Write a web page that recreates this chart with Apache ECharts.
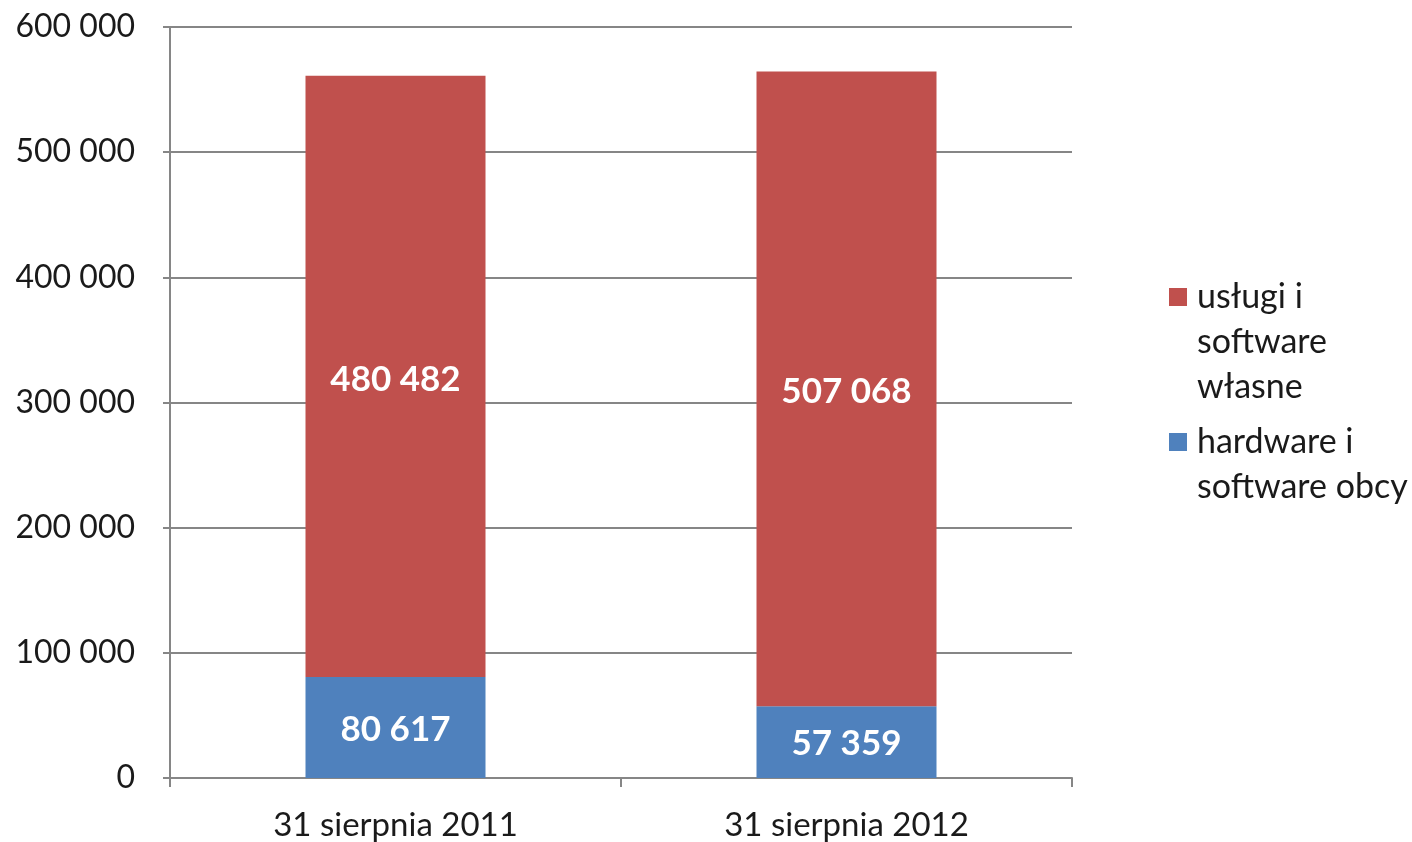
<!DOCTYPE html>
<html>
<head>
<meta charset="utf-8">
<title>Wykres</title>
<script src="https://cdn.jsdelivr.net/npm/echarts@6/dist/echarts.min.js"></script>
<style>
  html, body { margin: 0; padding: 0; background: #fff; }
  #chart { width: 1412px; height: 842px; }
</style>
</head>
<body>
<div id="chart"></div>
<script>
var categories = ['31 sierpnia 2011', '31 sierpnia 2012'];
var hardwareValues = [80617, 57359];
var uslugiValues = [480482, 507068];
var seriesNames = ['usługi i software własne', 'hardware i software obcy'];
var legendLabels = [['usługi i', 'software', 'własne'], ['hardware i', 'software obcy']];

var FONT = 'Lato';
var GRAY = '#868686';
var LH = 45;

function fmt(v) {
    return String(v).replace(/\B(?=(\d{3})+(?!\d))/g, ' ');
}

// icon is centred on the text block, so pad with empty lines on top
// to put the first line next to the icon
function legendFor(idx, iconY) {
    var lines = legendLabels[idx];
    var pad = lines.length - 1;
    var total = lines.length + pad;
    var text = new Array(pad + 1).join(' \n') + lines.join('\n');
    return {
        orient: 'vertical',
        left: 1169,
        top: iconY - total * LH / 2,
        padding: 0,
        itemWidth: 18,
        itemHeight: 18,
        icon: 'rect',
        data: [seriesNames[idx]],
        formatter: function () { return text; },
        textStyle: {
            fontFamily: FONT,
            fontSize: 34,
            lineHeight: LH,
            color: '#1a1a1a',
            padding: [0, 0, 0, 5]
        }
    };
}

var chart = echarts.init(document.getElementById('chart'));
chart.setOption({
    animation: false,
    backgroundColor: '#fff',
    grid: { left: 170, right: 340, top: 27, bottom: 64 },
    legend: [
        legendFor(0, 297),
        legendFor(1, 442)
    ],
    xAxis: {
        type: 'category',
        data: categories,
        axisLine: { lineStyle: { color: GRAY, width: 2 } },
        axisTick: { show: true, length: 9, lineStyle: { color: GRAY, width: 2 } },
        axisLabel: { fontFamily: FONT, fontSize: 33, color: '#1a1a1a', margin: 31 }
    },
    yAxis: {
        type: 'value',
        min: 0,
        max: 600000,
        interval: 100000,
        axisLine: { show: true, lineStyle: { color: GRAY, width: 2 } },
        axisTick: { show: true, length: 7, lineStyle: { color: GRAY, width: 2 } },
        splitLine: { lineStyle: { color: GRAY, width: 2 } },
        axisLabel: {
            fontFamily: FONT, fontSize: 32, color: '#1a1a1a', margin: 35,
            formatter: function (v) { return fmt(v); }
        }
    },
    series: [
        {
            name: seriesNames[1],
            type: 'bar',
            stack: 'total',
            barWidth: 180,
            data: hardwareValues,
            itemStyle: { color: '#4F81BD' },
            label: {
                show: true, position: 'inside', color: '#fff',
                fontFamily: FONT, fontSize: 35, fontWeight: 'bold',
                offset: [0, 2],
                formatter: function (p) { return fmt(p.value); }
            }
        },
        {
            name: seriesNames[0],
            type: 'bar',
            stack: 'total',
            barWidth: 180,
            data: uslugiValues,
            itemStyle: { color: '#C0504D' },
            label: {
                show: true, position: 'inside', color: '#fff',
                fontFamily: FONT, fontSize: 35, fontWeight: 'bold',
                offset: [0, 3],
                formatter: function (p) { return fmt(p.value); }
            }
        }
    ]
});
</script>
</body>
</html>
